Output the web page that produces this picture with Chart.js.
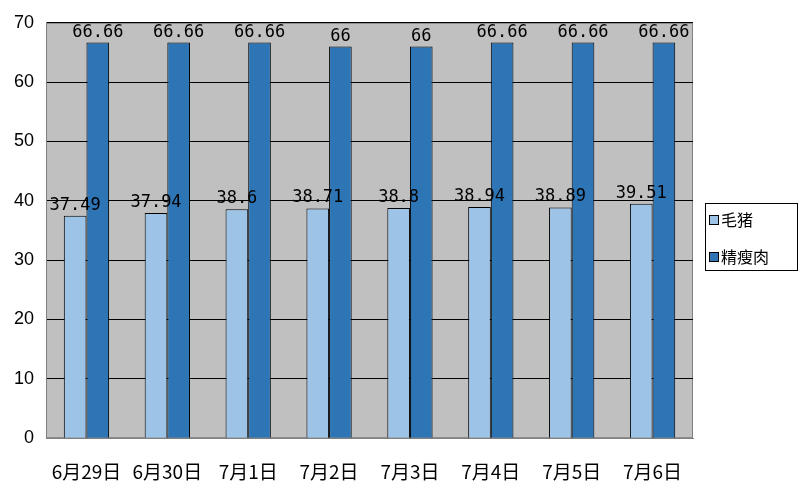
<!DOCTYPE html>
<html>
<head>
<meta charset="utf-8">
<script src="https://cdn.jsdelivr.net/npm/chart.js@4/dist/chart.umd.min.js"></script>
<style>
  html, body { margin: 0; padding: 0; background: #fff; }
  #wrap { width: 800px; height: 500px; }
</style>
</head>
<body>
<div id="wrap"><canvas id="barChart"></canvas></div>
<script>
const dates = ['6月29日', '6月30日', '7月1日', '7月2日', '7月3日', '7月4日', '7月5日', '7月6日'];
const maozhu = [37.49, 37.94, 38.6, 38.71, 38.8, 38.94, 38.89, 39.51];
const jingshourou = [66.66, 66.66, 66.66, 66, 66, 66.66, 66.66, 66.66];
const yTicks = [0, 10, 20, 30, 40, 50, 60, 70];

// gray plot area with a gray frame
const plotBg = {
    id: 'plotBg',
    beforeDraw(chart) {
        const { ctx, chartArea: a } = chart;
        ctx.save();
        ctx.fillStyle = '#c0c0c0';
        ctx.fillRect(a.left, a.top, a.right - a.left, a.bottom - a.top);
        ctx.strokeStyle = '#808080';
        ctx.lineWidth = 1;
        ctx.strokeRect(a.left + 0.5, a.top + 0.5, a.right - a.left - 1, a.bottom - a.top - 1);
        ctx.restore();
    }
};

// value labels above the bars
const valueLabels = {
    id: 'valueLabels',
    afterDatasetsDraw(chart) {
        const ctx = chart.ctx;
        ctx.save();
        ctx.font = '17px "DejaVu Sans Mono"';
        ctx.fillStyle = '#000';
        ctx.textAlign = 'center';
        ctx.textBaseline = 'alphabetic';
        chart.data.datasets.forEach((ds, i) => {
            chart.getDatasetMeta(i).data.forEach((bar, j) => {
                ctx.fillText(String(ds.data[j]), bar.x, bar.y - 6);
            });
        });
        ctx.restore();
    }
};

// boxed legend at the right of the plot
const boxLegend = {
    id: 'boxLegend',
    afterDraw(chart) {
        const { ctx, chartArea: a } = chart;
        const left = Math.round(a.right) + 12;
        const right = chart.width - 3;
        const top = 203, rowH = 37;
        ctx.save();
        ctx.strokeStyle = '#000';
        ctx.lineWidth = 1;
        ctx.strokeRect(left + 0.5, top + 0.5, right - left, 67);
        ctx.font = '16px "Noto Sans CJK SC"';
        ctx.textBaseline = 'middle';
        chart.data.datasets.forEach((ds, i) => {
            const cy = top + 17 + i * rowH;
            ctx.fillStyle = ds.backgroundColor;
            ctx.fillRect(left + 4.5, cy - 4.5, 9, 9);
            ctx.strokeRect(left + 4.5, cy - 4.5, 9, 9);
            ctx.fillStyle = '#000';
            ctx.fillText(ds.label, left + 16, cy);
        });
        ctx.restore();
    }
};

const ctx = document.getElementById('barChart').getContext('2d');

new Chart(ctx, {
    type: 'bar',
    data: {
        labels: dates,
        datasets: [
            {
                label: '毛猪',
                data: maozhu,
                backgroundColor: '#9dc3e6',
                borderColor: '#000',
                borderWidth: 1
            },
            {
                label: '精瘦肉',
                data: jingshourou,
                backgroundColor: '#2e75b6',
                borderColor: '#000',
                borderWidth: 1
            }
        ]
    },
    options: {
        responsive: true,
        maintainAspectRatio: false,
        animation: false,
        layout: { padding: { top: 14, right: 107, left: 2, bottom: 3 } },
        datasets: {
            bar: { categoryPercentage: 0.56, barPercentage: 1 }
        },
        plugins: {
            legend: { display: false },
            tooltip: { enabled: false }
        },
        scales: {
            x: {
                grid: { display: false },
                border: { color: '#808080' },
                ticks: {
                    color: '#000',
                    padding: 14,
                    font: { family: '"Noto Sans CJK SC"', size: 19 }
                }
            },
            y: {
                min: 0,
                max: 70,
                afterBuildTicks: axis => { axis.ticks = yTicks.map(v => ({ value: v })); },
                grid: { color: '#000', drawTicks: false },
                border: { color: '#808080' },
                ticks: {
                    color: '#000',
                    padding: 12,
                    font: { family: '"Liberation Sans Narrow", "Liberation Sans"', size: 18 }
                }
            }
        }
    },
    plugins: [plotBg, valueLabels, boxLegend]
});
</script>
</body>
</html>
